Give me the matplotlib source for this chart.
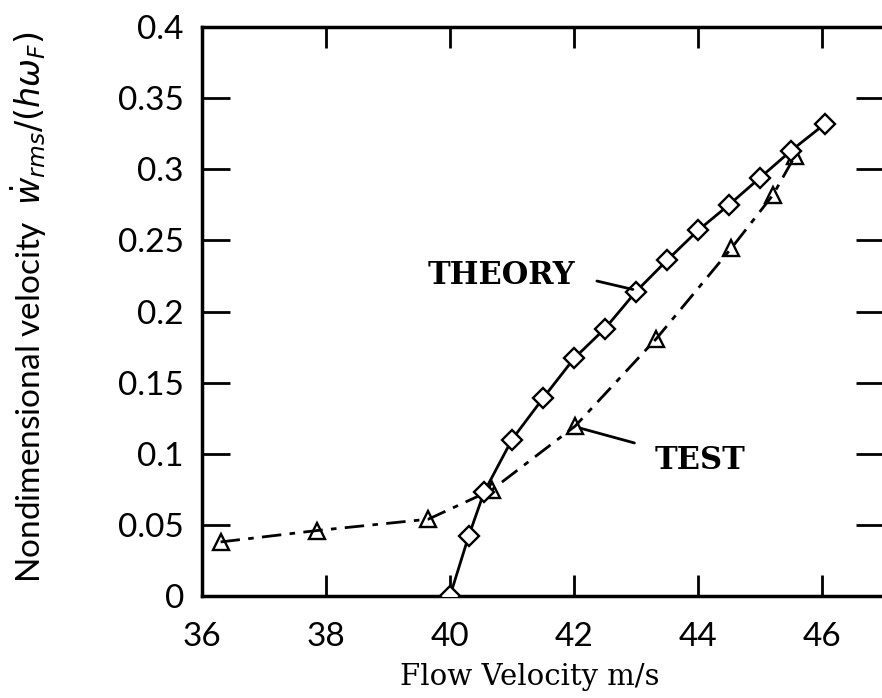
import matplotlib.pyplot as plt

# flow velocity (m/s) and nondimensional rms velocity
theory_v = [40.0, 40.3, 40.55, 41.0, 41.5, 42.0, 42.5, 43.0, 43.5, 44.0, 44.5, 45.0, 45.5, 46.05]
theory_w = [0.0, 0.042, 0.073, 0.110, 0.139, 0.167, 0.188, 0.214, 0.236, 0.257, 0.275, 0.294, 0.313, 0.332]

test_v = [36.3, 37.85, 39.65, 40.67, 42.02, 43.33, 44.54, 45.21, 45.56]
test_w = [0.038, 0.046, 0.054, 0.0745, 0.1195, 0.181, 0.2446, 0.282, 0.309]

x_ticks = [36, 38, 40, 42, 44, 46]
y_ticks = [0, 0.05, 0.1, 0.15, 0.2, 0.25, 0.3, 0.35, 0.4]
y_labels = ['0', '0.05', '0.1', '0.15', '0.2', '0.25', '0.3', '0.35', '0.4']

serif = ['DejaVu Serif']
sans = ['Lato', 'DejaVu Sans']

fig = plt.figure(figsize=(8.82, 6.98), dpi=100)
ax = fig.add_axes([202 / 882, 102 / 698, 682 / 882, 569 / 698])

# theory: solid line with open diamonds
ax.plot(theory_v, theory_w, color='black', lw=2.0, marker='D', markersize=10,
        markerfacecolor='white', markeredgecolor='black', markeredgewidth=1.7, zorder=3)
# test: dash-dot line with open triangles
ax.plot(test_v, test_w, color='black', lw=2.0, dashes=(7, 3, 2, 3), marker='^',
        markersize=12, markerfacecolor='none', markeredgecolor='black',
        markeredgewidth=1.7, zorder=2)

ax.set_xlim(36, 47)
ax.set_ylim(0, 0.4)
ax.set_xticks(x_ticks)
ax.set_yticks(y_ticks)
ax.set_yticklabels(y_labels)

for s in ax.spines.values():
    s.set_linewidth(2.5)

ax.tick_params(axis='both', direction='in', top=True, right=True, width=2.0)
ax.tick_params(axis='x', length=15, pad=19)
ax.tick_params(axis='y', length=20, pad=13)
for lab in ax.get_xticklabels() + ax.get_yticklabels():
    lab.set_family(sans)
    lab.set_fontsize(24)

ax.set_xlabel('Flow Velocity m/s', family=serif, fontsize=21)
ax.xaxis.set_label_coords(0.48, -0.118)
ax.set_ylabel(r'Nondimensional velocity  $\dot{w}_{rms}/(h\omega_F)$', family=sans,
              fontsize=24)
ax.yaxis.set_label_coords(-0.225, 0.508)

ax.annotate('THEORY', xy=(42.95, 0.2155), xytext=(42.02, 0.225), ha='right', va='center',
            family=serif, fontsize=22, fontweight='bold',
            arrowprops=dict(arrowstyle='-', lw=2.0, color='black', relpos=(1, 0.5),
                            shrinkA=14, shrinkB=0))
ax.annotate('TEST', xy=(42.1, 0.118), xytext=(43.3, 0.095), ha='left', va='center',
            family=serif, fontsize=22, fontweight='bold',
            arrowprops=dict(arrowstyle='-', lw=2.0, color='black', relpos=(0, 0.9),
                            shrinkA=13, shrinkB=0))

fig.savefig('out.png', dpi=100)
